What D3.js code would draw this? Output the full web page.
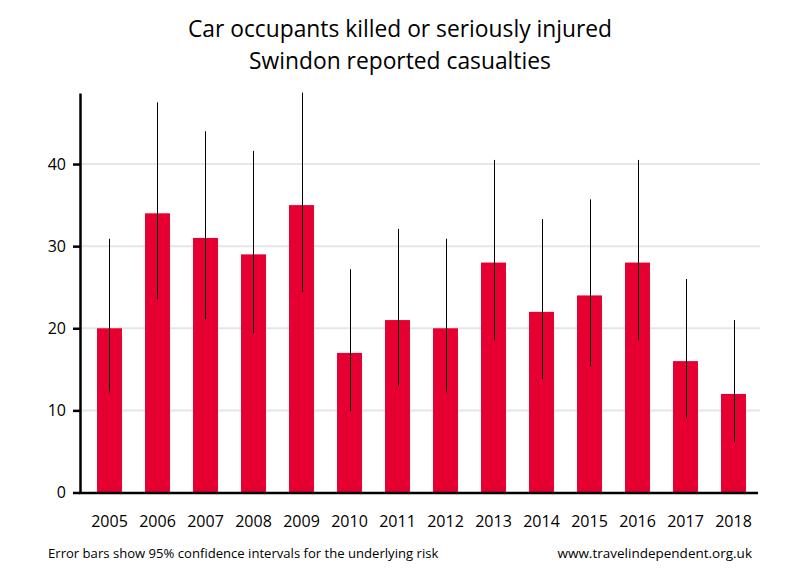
<!DOCTYPE html>
<html><head><meta charset="utf-8">
<script src="https://cdn.jsdelivr.net/npm/d3@7"></script>
<style>body{margin:0;background:#fff}svg{display:block}text{font-family:"Open Sans","Noto Sans",sans-serif;fill:#000}</style>
</head><body>
<svg id="c" width="800" height="580"></svg>
<script>
const years = ["2005","2006","2007","2008","2009","2010","2011","2012","2013","2014","2015","2016","2017","2018"];
const casualties = [20,34,31,29,35,17,21,20,28,22,24,28,16,12];
const ciLow  = [12.2,23.5,21.1,19.4,24.4,9.9,13.0,12.2,18.6,13.8,15.4,18.6,9.1,6.2];
const ciHigh = [30.9,47.5,44.0,41.6,48.7,27.2,32.1,30.9,40.5,33.3,35.7,40.5,26.0,21.0];
const yTicks = [0,10,20,30,40];
const titleLines = ["Car occupants killed or seriously injured","Swindon reported casualties"];
const footLeft = "Error bars show 95% confidence intervals for the underlying risk";
const footRight = "www.travelindependent.org.uk";

const svg = d3.select("#c");
const x = d3.scaleBand().domain(years).range([85.5,757.5]).paddingInner(0.48).paddingOuter(0.24);
const y = d3.scaleLinear().domain([0,48.65]).range([492.5,93]);

// gridlines
svg.append("g").selectAll("line").data(yTicks.filter(d=>d>0)).join("line")
  .attr("x1",80).attr("x2",760).attr("y1",d=>y(d)).attr("y2",d=>y(d))
  .attr("stroke","#e6e6e6").attr("stroke-width",2);

// bars
svg.append("g").selectAll("rect").data(years).join("rect")
  .attr("x",d=>x(d)).attr("width",x.bandwidth())
  .attr("y",(d,i)=>y(casualties[i])).attr("height",(d,i)=>y(0)-y(casualties[i]))
  .attr("fill","#e60032");

// error bars
svg.append("g").selectAll("line").data(years).join("line")
  .attr("x1",d=>Math.round(x(d)+x.bandwidth()/2)+0.5).attr("x2",d=>Math.round(x(d)+x.bandwidth()/2)+0.5)
  .attr("y1",(d,i)=>y(ciLow[i])).attr("y2",(d,i)=>y(ciHigh[i]))
  .attr("stroke","#000").attr("stroke-width",1);

// y axis
const ya = svg.append("g").attr("transform","translate(80,0)")
  .call(d3.axisLeft(y).tickValues(yTicks).tickSize(7).tickPadding(7).tickSizeOuter(0));
ya.select(".domain").attr("stroke","#000").attr("stroke-width",2.5);
ya.selectAll(".tick line").attr("stroke","#000").attr("stroke-width",2.5);
ya.selectAll(".tick text").style("font-size","16px").style("font-family",'"Open Sans",sans-serif').attr("fill","#000");

// x axis
const xa = svg.append("g").attr("transform","translate(0,"+y(0)+")")
  .call(d3.axisBottom(x).tickSize(0).tickPadding(23));
xa.select(".domain").attr("d","M79,0.5H758").attr("stroke","#000").attr("stroke-width",2.5);
xa.selectAll(".tick text").style("font-size","16px").style("font-family",'"Open Sans",sans-serif').attr("fill","#000");

// titles
svg.append("g").selectAll("text").data(titleLines).join("text")
  .attr("x",400).attr("y",(d,i)=>36.5+i*32).attr("text-anchor","middle")
  .style("font-size","22.8px").text(d=>d);

svg.append("text").attr("x",48).attr("y",558).style("font-size","13.1px").text(footLeft);
svg.append("text").attr("x",752).attr("y",558).attr("text-anchor","end").style("font-size","13.5px").text(footRight);
</script>
</body></html>
